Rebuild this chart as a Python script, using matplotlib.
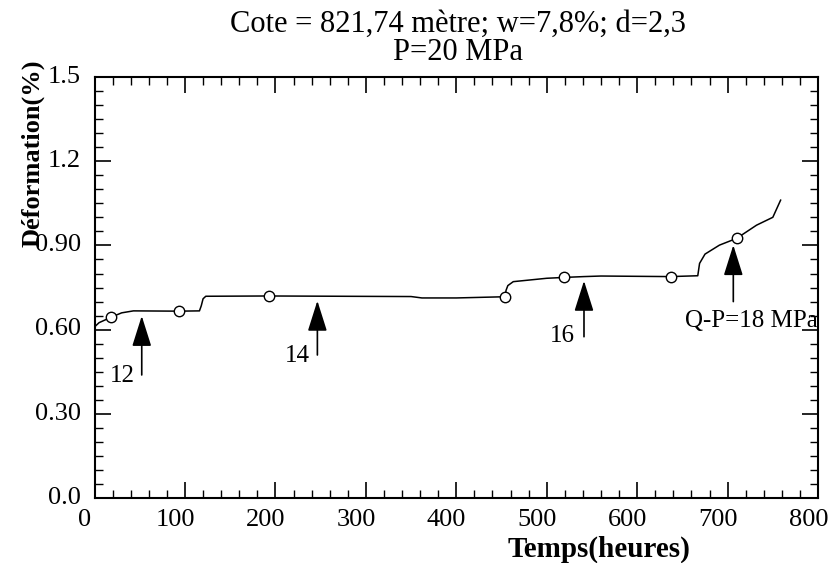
import matplotlib
matplotlib.use('Agg')
import matplotlib.pyplot as plt
from matplotlib.ticker import MultipleLocator, FixedLocator
from matplotlib.transforms import ScaledTranslation

plt.rcParams['font.family'] = ['Liberation Serif', 'DejaVu Serif']

# ---- data ----
time_h = [0, 5, 18, 30, 43, 93, 116, 118, 120, 123, 193, 350, 362, 400,
          450, 454, 455, 457, 463, 500, 519, 541, 560, 637, 667, 669,
          675, 691, 710, 732, 750, 758.6]
strain_pct = [0.610, 0.625, 0.644, 0.660, 0.667, 0.666, 0.667, 0.685, 0.710,
              0.719, 0.720, 0.718, 0.713, 0.713, 0.717, 0.717, 0.740, 0.757,
              0.771, 0.783, 0.786, 0.789, 0.791, 0.789, 0.792, 0.836, 0.869,
              0.901, 0.925, 0.972, 1.000, 1.061]

marker_t = [18, 93, 193, 454, 519, 637, 710]
marker_d = [0.644, 0.666, 0.720, 0.717, 0.786, 0.789, 0.925]

arrow_t = [52.2, 246.4, 541.2, 706.3]
arrow_tip = [0.649, 0.703, 0.774, 0.901]
arrow_tail = [0.439, 0.510, 0.575, 0.700]
arrow_labels = ['12', '14', '16', 'Q-P=18 MPa']
label_t = [44.8, 238.3, 531.0, 652.6]
label_d = [0.415, 0.486, 0.556, 0.611]
label_ha = ['right', 'right', 'right', 'left']

xticks = [0, 100, 200, 300, 400, 500, 600, 700, 800]
yticks = [0.0, 0.3, 0.6, 0.9, 1.2, 1.5]
ytick_labels = ['0.0', '0.30', '0.60', '0.90', '1.2', '1.5']

title_line1 = 'Cote = 821,74 mètre; w=7,8%; d=2,3'
title_line2 = 'P=20 MPa'
xlabel = 'Temps(heures)'
ylabel = 'Déformation(%)'

# ---- figure ----
fig = plt.figure(figsize=(8.3, 5.63), dpi=100)
ax = fig.add_axes([0.1139, 0.1149, 0.8717, 0.7487])

ax.plot(time_h, strain_pct, color='black', lw=1.1)
ax.plot(marker_t, marker_d, linestyle='none', marker='o', markersize=7.5,
        markerfacecolor='white', markeredgecolor='black', markeredgewidth=1.0)

for t, tip, tail in zip(arrow_t, arrow_tip, arrow_tail):
    ax.annotate('', xy=(t, tip), xytext=(t, tail),
                arrowprops=dict(arrowstyle='-|>,head_length=1.9,head_width=0.6',
                                color='black', lw=1.2, shrinkA=0, shrinkB=0,
                                mutation_scale=10))

for txt, t, d, ha in zip(arrow_labels, label_t, label_d, label_ha):
    ax.text(t, d, txt, ha=ha, va='baseline', fontsize=18, clip_on=False)

ax.set_xlim(0, 800)
ax.set_ylim(0, 1.5)
ax.xaxis.set_major_locator(FixedLocator(xticks))
ax.xaxis.set_minor_locator(MultipleLocator(20))
ax.yaxis.set_major_locator(FixedLocator(yticks))
ax.yaxis.set_minor_locator(MultipleLocator(0.05))
ax.set_xticklabels([str(v) for v in xticks])
ax.set_yticklabels(ytick_labels)

ax.tick_params(which='both', direction='in', top=True, right=True,
               labelsize=19, colors='black')
ax.tick_params(which='major', length=11.5, width=1.2)
ax.tick_params(which='minor', length=6, width=1.0)
ax.tick_params(axis='x', which='major', pad=8)
ax.tick_params(axis='y', which='major', pad=10)
for sp in ax.spines.values():
    sp.set_linewidth(1.5)

off_x = ScaledTranslation(-7 / 72, 0, fig.dpi_scale_trans)
for lab in ax.get_xticklabels():
    lab.set_transform(lab.get_transform() + off_x)
off_y = ScaledTranslation(0, 2 / 72, fig.dpi_scale_trans)
for lab in ax.get_yticklabels():
    lab.set_transform(lab.get_transform() + off_y)

fig.text(0.5518, 0.9432, title_line1, ha='center', va='baseline', fontsize=22)
fig.text(0.5518, 0.8934, title_line2, ha='center', va='baseline', fontsize=22)
fig.text(0.7217, 0.0112, xlabel, ha='center', va='baseline', fontsize=21,
         fontweight='bold')
fig.text(0.0398, 0.7274, ylabel, ha='center', va='center', rotation=90,
         fontsize=19, fontweight='bold')

fig.savefig('out.png', dpi=100)
